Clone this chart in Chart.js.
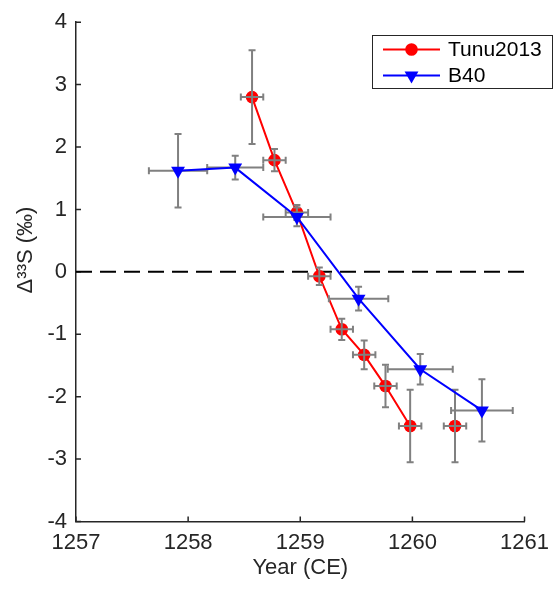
<!DOCTYPE html>
<html>
<head>
<meta charset="utf-8">
<script src="https://cdn.jsdelivr.net/npm/chart.js@4.4.1/dist/chart.umd.min.js"></script>
<style>
  html, body { margin: 0; padding: 0; background: #fff; }
  #wrap { width: 557px; height: 589px; }
</style>
</head>
<body>
<div id="wrap"><canvas id="d33sChart" width="557" height="589"></canvas></div>
<script>
// Tunu2013 ice core samples (last one is plotted but not joined to the line)
const tunuYears = [1258.57, 1258.77, 1258.97, 1259.17, 1259.37, 1259.57, 1259.76, 1259.98, 1260.38];
const tunuValues = [2.80, 1.79, 0.95, -0.07, -0.92, -1.33, -1.83, -2.47, -2.47];
const tunuYErr = [0.75, 0.18, 0.12, 0.14, 0.17, 0.23, 0.34, 0.58, 0.58];
const tunuXErr = [0.10, 0.10, 0.10, 0.10, 0.10, 0.10, 0.10, 0.10, 0.10];
const tunuJoinedCount = 8;

// B40 samples
const b40Years = [1257.91, 1258.42, 1258.97, 1259.52, 1260.07, 1260.62];
const b40Values = [1.62, 1.67, 0.88, -0.43, -1.56, -2.22];
const b40YErr = [0.59, 0.19, 0.15, 0.19, 0.245, 0.50];
const b40XErr = [0.26, 0.25, 0.30, 0.265, 0.29, 0.275];

// axis ticks
const xTicks = [1257, 1258, 1259, 1260, 1261];
const yTicks = [-4, -3, -2, -1, 0, 1, 2, 3, 4];
const zeroLine = [0, 0];

const FONT = "'Liberation Sans', Arial, Helvetica, sans-serif";
const AXIS_COLOR = '#262626';
const RED = '#ff0000';
const BLUE = '#0000ff';
const ERR_COLOR = '#808080';

function toPoints(xs, ys) {
  return xs.map((x, i) => ({ x: x, y: ys[i] }));
}

// Draw the grey error bars with small caps
function drawErrorBars(chart, xs, ys, xErr, yErr) {
  const ctx = chart.ctx;
  const xs_ = chart.scales.x;
  const ys_ = chart.scales.y;
  const cap = 3.5;
  ctx.save();
  ctx.strokeStyle = ERR_COLOR;
  ctx.lineWidth = 2;
  for (let i = 0; i < xs.length; i++) {
    const px = xs_.getPixelForValue(xs[i]);
    const py = ys_.getPixelForValue(ys[i]);
    const top = ys_.getPixelForValue(ys[i] + yErr[i]);
    const bot = ys_.getPixelForValue(ys[i] - yErr[i]);
    const lft = xs_.getPixelForValue(xs[i] - xErr[i]);
    const rgt = xs_.getPixelForValue(xs[i] + xErr[i]);
    ctx.beginPath();
    ctx.moveTo(px, top); ctx.lineTo(px, bot);
    ctx.moveTo(px - cap, top); ctx.lineTo(px + cap, top);
    ctx.moveTo(px - cap, bot); ctx.lineTo(px + cap, bot);
    ctx.moveTo(lft, py); ctx.lineTo(rgt, py);
    ctx.moveTo(lft, py - cap); ctx.lineTo(lft, py + cap);
    ctx.moveTo(rgt, py - cap); ctx.lineTo(rgt, py + cap);
    ctx.stroke();
  }
  ctx.restore();
}

const errorBarPlugin = {
  id: 'errorBars',
  afterDatasetDraw(chart, args) {
    if (args.index === 0) {
      drawErrorBars(chart, tunuYears, tunuValues, tunuXErr, tunuYErr);
      drawErrorBars(chart, b40Years, b40Values, b40XErr, b40YErr);
    }
  }
};

// MATLAB style ticks pointing into the plot
const inwardTicksPlugin = {
  id: 'inwardTicks',
  beforeDatasetsDraw(chart) {
    const ctx = chart.ctx;
    const area = chart.chartArea;
    const len = 5;
    ctx.save();
    ctx.strokeStyle = AXIS_COLOR;
    ctx.lineWidth = 1.5;
    ctx.beginPath();
    xTicks.forEach(v => {
      const px = chart.scales.x.getPixelForValue(v);
      ctx.moveTo(px, area.bottom); ctx.lineTo(px, area.bottom - len);
    });
    yTicks.forEach(v => {
      const py = chart.scales.y.getPixelForValue(v);
      ctx.moveTo(area.left, py); ctx.lineTo(area.left + len, py);
    });
    ctx.stroke();
    ctx.restore();
  }
};

// y axis title, placed a bit above the axis centre like the original
const yTitlePlugin = {
  id: 'yTitle',
  afterDraw(chart) {
    const ctx = chart.ctx;
    ctx.save();
    ctx.translate(25.5, 250);
    ctx.rotate(-Math.PI / 2);
    ctx.font = '22px ' + FONT;
    ctx.fillStyle = AXIS_COLOR;
    ctx.textAlign = 'center';
    ctx.textBaseline = 'middle';
    ctx.fillText('\u0394\u00b3\u00b3S (\u2030)', 0, 0);
    ctx.restore();
  }
};

// boxed legend in the top right corner
const boxLegendPlugin = {
  id: 'boxLegend',
  afterDraw(chart) {
    const ctx = chart.ctx;
    const box = { x: 372.5, y: 35.5, w: 180, h: 53 };
    const rows = [
      { ds: chart.data.datasets[0], y: 49.5 },
      { ds: chart.data.datasets[1], y: 75.5 }
    ];
    ctx.save();
    ctx.fillStyle = '#ffffff';
    ctx.fillRect(box.x, box.y, box.w, box.h);
    ctx.strokeStyle = AXIS_COLOR;
    ctx.lineWidth = 1;
    ctx.strokeRect(box.x, box.y, box.w, box.h);
    rows.forEach(r => {
      ctx.strokeStyle = r.ds.borderColor;
      ctx.lineWidth = 2;
      ctx.beginPath();
      ctx.moveTo(383, r.y); ctx.lineTo(440, r.y);
      ctx.stroke();
      ctx.fillStyle = r.ds.pointBackgroundColor;
      Chart.helpers.drawPoint(ctx, {
        pointStyle: r.ds.pointStyle,
        radius: r.ds.pointRadius,
        rotation: r.ds.pointRotation || 0,
        borderWidth: 0
      }, 411.5, r.y);
      ctx.fillStyle = '#000000';
      ctx.font = '21px ' + FONT;
      ctx.textAlign = 'left';
      ctx.textBaseline = 'middle';
      ctx.fillText(r.ds.label, 448, r.y + 1);
    });
    ctx.restore();
  }
};

const chartCtx = document.getElementById('d33sChart').getContext('2d');
new Chart(chartCtx, {
  type: 'scatter',
  data: {
    datasets: [
      {
        label: 'Tunu2013',
        data: toPoints(tunuYears, tunuValues),
        showLine: true,
        borderColor: RED,
        borderWidth: 2,
        pointStyle: 'circle',
        pointRadius: 6.3,
        pointBackgroundColor: RED,
        pointBorderWidth: 0,
        segment: {
          borderColor: c => (c.p1DataIndex >= tunuJoinedCount ? 'rgba(0,0,0,0)' : RED)
        },
        order: 1
      },
      {
        label: 'B40',
        data: toPoints(b40Years, b40Values),
        showLine: true,
        borderColor: BLUE,
        borderWidth: 2,
        pointStyle: 'triangle',
        pointRotation: 180,
        pointRadius: 8,
        pointBackgroundColor: BLUE,
        pointBorderWidth: 0,
        order: 0
      },
      {
        label: 'zero',
        data: toPoints([xTicks[0], xTicks[xTicks.length - 1]], zeroLine),
        showLine: true,
        borderColor: '#000000',
        borderWidth: 2,
        borderDash: [16, 8],
        pointRadius: 0,
        order: 2
      }
    ]
  },
  options: {
    responsive: false,
    animation: false,
    events: [],
    layout: { padding: { left: 0, right: 32, top: 16.5, bottom: 0 } },
    plugins: {
      legend: { display: false },
      tooltip: { enabled: false }
    },
    scales: {
      x: {
        type: 'linear',
        min: xTicks[0],
        max: xTicks[xTicks.length - 1],
        afterBuildTicks: s => { s.ticks = xTicks.map(v => ({ value: v })); },
        afterFit: s => { s.height = 67.5; },
        grid: { display: false, drawTicks: false },
        border: { display: true, color: AXIS_COLOR, width: 1.5 },
        ticks: {
          padding: 8,
          color: AXIS_COLOR,
          font: { family: FONT, size: 22 },
          maxRotation: 0,
          callback: v => String(v)
        },
        title: {
          display: true,
          text: 'Year (CE)',
          color: AXIS_COLOR,
          font: { family: FONT, size: 22 },
          padding: { top: 0, bottom: 8 }
        }
      },
      y: {
        type: 'linear',
        min: yTicks[0],
        max: yTicks[yTicks.length - 1],
        afterBuildTicks: s => { s.ticks = yTicks.map(v => ({ value: v })); },
        afterFit: s => { s.width = 76; },
        grid: { display: false, drawTicks: false },
        border: { display: true, color: AXIS_COLOR, width: 1.5 },
        ticks: {
          padding: 9,
          color: AXIS_COLOR,
          font: { family: FONT, size: 22 },
          callback: v => String(v)
        }
      }
    }
  },
  plugins: [inwardTicksPlugin, errorBarPlugin, yTitlePlugin, boxLegendPlugin]
});
</script>
</body>
</html>
